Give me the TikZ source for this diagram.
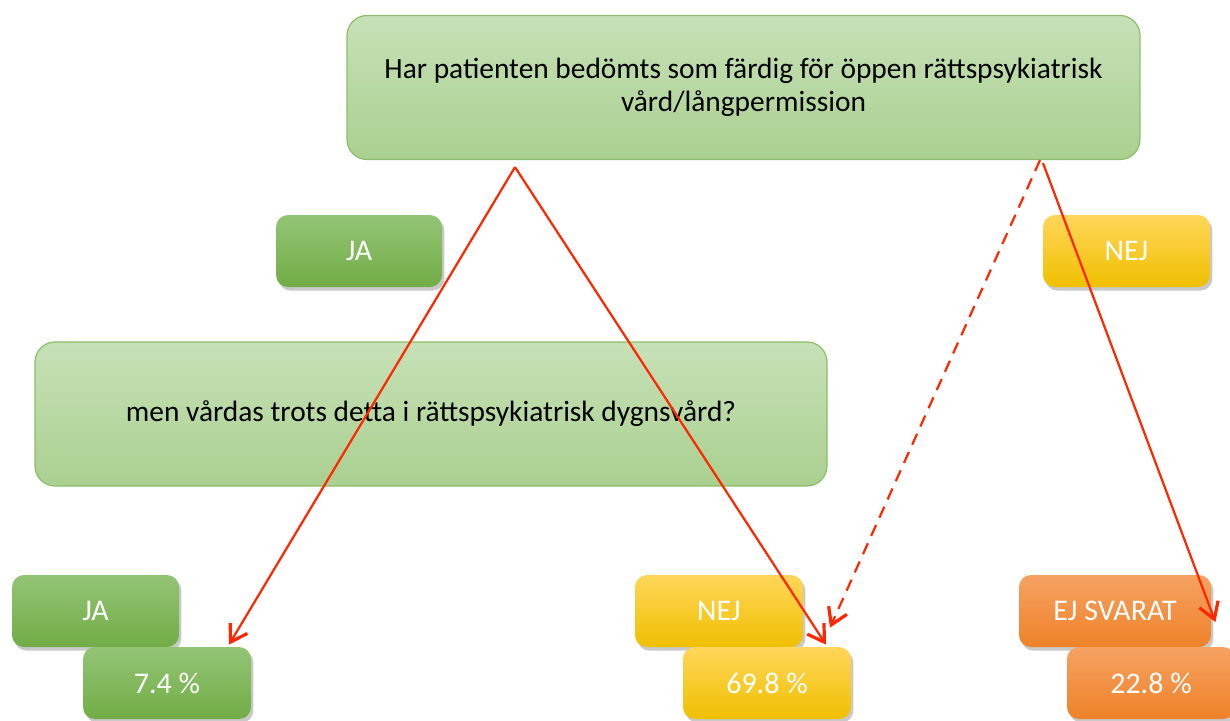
\documentclass[tikz,border=0pt]{standalone}
\usepackage{fontspec}
\setmainfont{Carlito}
\usetikzlibrary{calc,arrows.meta,shadows}
\definecolor{frageTop}{RGB}{199,225,183}
\definecolor{frageBot}{RGB}{170,208,144}
\definecolor{frageRim}{RGB}{140,190,105}
\definecolor{jaTop}{RGB}{147,196,116}
\definecolor{jaBot}{RGB}{114,173,71}
\definecolor{nejTop}{RGB}{255,214,90}
\definecolor{nejMid}{RGB}{255,204,0}
\definecolor{nejBot}{RGB}{240,192,0}
\definecolor{ejTop}{RGB}{246,162,98}
\definecolor{ejBot}{RGB}{238,130,40}
\definecolor{pilRed}{RGB}{255,38,0}
\tikzset{
  skugga/.style={drop shadow={shadow xshift=1.2pt,shadow yshift=-1.8pt,opacity=0.3,fill=black!70}},
  fraga/.style={rounded corners=10pt,draw=frageRim,line width=0.6pt,top color=frageTop,bottom color=frageBot,
                minimum width=#1,minimum height=72pt,align=center,font=\fontsize{14.7}{16.5}\selectfont},
  svar/.style={rounded corners=6pt,skugga,minimum width=#1,minimum height=36pt,text=white,
               font=\fontsize{15}{16}\selectfont},
  jabox/.style={svar=#1,top color=jaTop,bottom color=jaBot},
  nejbox/.style={svar=#1,top color=nejTop,middle color=nejMid,bottom color=nejBot},
  ejbox/.style={svar=#1,top color=ejTop,bottom color=ejBot},
  pil/.style={draw=pilRed,line width=1.1pt,-{Straight Barb[length=8pt,width=10pt,line width=1.6pt]}}
}
\begin{document}
\begin{tikzpicture}[x=0.5pt,y=-0.5pt]
\useasboundingbox (0,0) rectangle (1230,720);
\node[fraga=396.5pt] (q1) at (743.5,87.5) {Har patienten bedömts som färdig för öppen rättspsykiatrisk\\vård/långpermission};
\node[jabox=83pt] (ja1) at (359,251) {JA};
\node[nejbox=83.5pt] (nej1) at (1126.5,251) {NEJ};
\node[fraga=396pt] (q2) at (431,414) {men vårdas trots detta i rättspsykiatrisk dygnsvård?};
\node[jabox=83.5pt] (ja2) at (95.5,611) {JA};
\node[jabox=84pt] (pja) at (167,683) {7.4 \%};
\node[nejbox=84pt] (nej2) at (719,611) {NEJ};
\node[nejbox=84pt] (pnej) at (767,683) {69.8 \%};
\node[ejbox=96pt] (ejs) at (1115,611) {EJ SVARAT};
\node[ejbox=84pt] (pejs) at (1151,683) {22.8 \%};
\coordinate (kant1) at ($(q1.south)+(-228.5,7)$);
\coordinate (kant2) at ($(q1.south)+(296.5,0)$);
\coordinate (kant3) at ($(q1.south)+(299.5,3)$);
\coordinate (mal3) at ($(pnej.north)+(63,-19)$);
\coordinate (mal4) at ($(ejs.east)+(4,11)$);
\draw[pil] (kant1) -- ($(pja.north)+(62,-2)$);
\draw[pil] (kant1) -- ($(pnej.north)+(59,-2)$);
\draw[pil,dash pattern=on 6pt off 4pt] (kant2) -- (mal3);
\draw[pil] (kant3) -- (mal4);
\end{tikzpicture}
\end{document}
